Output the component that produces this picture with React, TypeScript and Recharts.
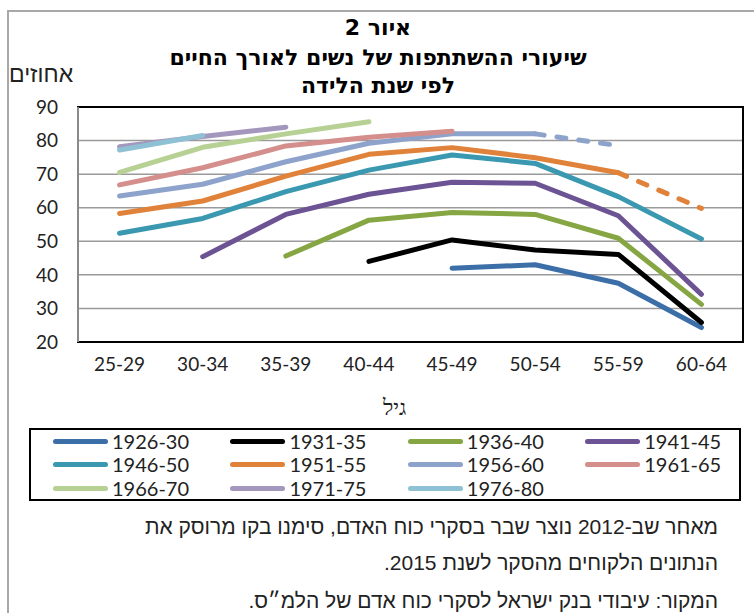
import React from 'react';
import { LineChart, Line, XAxis, YAxis, CartesianGrid, ReferenceArea } from 'recharts';

const ageGroups = ['25-29', '30-34', '35-39', '40-44', '45-49', '50-54', '55-59', '60-64'];

const cohorts = ['1926-30', '1931-35', '1936-40', '1941-45', '1946-50', '1951-55', '1956-60', '1961-65', '1966-70', '1971-75', '1976-80'];

const cohortColors = ['#3c6ea8', '#000000', '#86a643', '#6c5393', '#3a98b0', '#e0823a', '#8ea3cc', '#d48e8c', '#b7d094', '#a497bd', '#8dc1d3'];

// participation rate (%) by age group, one array per birth cohort
const c1926 = [null, null, null, null, 42, 43, 37.5, 24.3];
const c1931 = [null, null, null, 44, 50.4, 47.4, 46.1, 25.8];
const c1936 = [null, null, 45.6, 56.3, 58.6, 58, 50.9, 31.2];
const c1941 = [null, 45.4, 58, 64, 67.6, 67.3, 57.6, 34.2];
const c1946 = [52.4, 56.8, 64.8, 71.2, 75.7, 73.2, 63.3, 50.7];
const c1951 = [58.3, 62, 69.4, 75.9, 77.9, 74.9, 70.4, 59.8];
const c1956 = [63.5, 67, 73.7, 79.2, 82, 82, 78.5, null];
const c1961 = [66.8, 71.9, 78.4, 81, 82.8, null, null, null];
const c1966 = [70.5, 78, 82, 85.6, null, null, null, null];
const c1971 = [78.2, 81.2, 84, null, null, null, null, null];
const c1976 = [77.2, 81.5, null, null, null, null, null, null];

const cohortValues = [c1926, c1931, c1936, c1941, c1946, c1951, c1956, c1961, c1966, c1971, c1976];

// after the 2012 survey break the last point comes from the 2015 survey (dashed)
const dashedFrom: Record<string, number> = { '1956-60': 5, '1951-55': 6 };

const yTicks = [20, 30, 40, 50, 60, 70, 80, 90];

const chartData = ageGroups.map((age, i) => {
  const row: Record<string, number | string | null> = { x: i, age };
  cohorts.forEach((c, k) => {
    const v = cohortValues[k][i];
    const cut = dashedFrom[c];
    if (cut === undefined) {
      row[c] = v;
    } else {
      row[c] = i <= cut ? v : null;
      row[c + ' dashed'] = i >= cut ? v : null;
    }
  });
  return row;
});

const tickFont = { fontFamily: 'Lato, sans-serif', fontSize: 19, fill: '#222' };

const titleLine: React.CSSProperties = {
  position: 'absolute', left: 0, width: 756, textAlign: 'center', direction: 'rtl',
  fontFamily: '"DejaVu Sans", sans-serif', fontWeight: 'bold', fontSize: 22, lineHeight: '28px', color: '#000',
};

const App: React.FC = () => {
  return (
    <div style={{ position: 'absolute', left: 0, top: 0, width: 754, height: 613, overflow: 'hidden', background: '#fff' }}>
      <div style={{ position: 'absolute', left: 7, top: 10, width: 800, height: 700, borderLeft: '2px solid #a8a8a8', borderTop: '2px solid #a8a8a8' }} />

      <div style={{ ...titleLine, top: 14 }}>איור 2</div>
      <div style={{ ...titleLine, top: 44 }}>שיעורי ההשתתפות של נשים לאורך החיים</div>
      <div style={{ ...titleLine, top: 72 }}>לפי שנת הלידה</div>

      <div style={{ position: 'absolute', left: 9, top: 61, direction: 'rtl', fontFamily: '"Liberation Sans", sans-serif', fontSize: 23, color: '#222' }}>
        אחוזים
      </div>

      <div style={{ position: 'absolute', left: 0, top: 0 }}>
        <LineChart width={754} height={420} data={chartData} margin={{ top: 107, right: 11, left: 0, bottom: 48 }}>
          <CartesianGrid horizontal vertical={false} stroke="#9a9a9a" strokeWidth={1.5} />
          <ReferenceArea x1={-0.5} x2={7.5} y1={20} y2={90} fill="none" stroke="#000" strokeWidth={2} />
          <XAxis
            xAxisId="sep"
            type="number"
            dataKey="x"
            domain={[-0.5, 7.5]}
            ticks={[0.5, 1.5, 2.5, 3.5, 4.5, 5.5, 6.5]}
            tick={false}
            tickSize={-7}
            tickLine={{ stroke: '#000', strokeWidth: 1.5 }}
            axisLine={false}
            height={0}
          />
          <XAxis
            type="number"
            dataKey="x"
            domain={[-0.5, 7.5]}
            ticks={[0, 1, 2, 3, 4, 5, 6, 7]}
            tickFormatter={(i: number) => ageGroups[i]}
            tick={tickFont}
            tickLine={false}
            tickSize={0}
            tickMargin={16}
            axisLine={{ stroke: '#000', strokeWidth: 2 }}
            height={30}
            interval={0}
          />
          <YAxis
            type="number"
            domain={[20, 90]}
            ticks={yTicks}
            width={78}
            tick={tickFont}
            tickLine={false}
            tickSize={0}
            tickMargin={20}
            axisLine={{ stroke: '#8a8a8a', strokeWidth: 2 }}
            interval={0}
          />
          {cohorts.map((c, k) => (
            <Line
              key={c}
              dataKey={c}
              type="linear"
              stroke={cohortColors[k]}
              strokeWidth={5}
              strokeLinecap="round"
              strokeLinejoin="round"
              dot={false}
              isAnimationActive={false}
            />
          ))}
          {cohorts.filter(c => dashedFrom[c] !== undefined).map(c => (
            <Line
              key={c + ' dashed'}
              dataKey={c + ' dashed'}
              type="linear"
              stroke={cohortColors[cohorts.indexOf(c)]}
              strokeWidth={5}
              strokeDasharray="9 13"
              strokeLinecap="round"
              dot={false}
              legendType="none"
              isAnimationActive={false}
            />
          ))}
        </LineChart>
      </div>

      <div style={{ position: 'absolute', left: 383, top: 395, fontFamily: '"Liberation Serif", serif', fontSize: 22, color: '#222', direction: 'rtl' }}>
        גיל
      </div>

      <div style={{ position: 'absolute', left: 29, top: 428, width: 708, height: 69, border: '2px solid #000' }}>
        {cohorts.map((c, k) => (
          <div
            key={c}
            style={{ position: 'absolute', left: 22 + (k % 4) * 177.4, top: (Math.floor(k / 4)) * 23.3, height: 23, display: 'flex', alignItems: 'center' }}
          >
            <div style={{ width: 55, height: 5, borderRadius: 3, background: cohortColors[k] }} />
            <span style={{ marginLeft: 4, fontFamily: 'Lato, sans-serif', fontSize: 20, color: '#222', lineHeight: '23px' }}>{c}</span>
          </div>
        ))}
      </div>

      <div style={{ position: 'absolute', right: 36, top: 509, direction: 'rtl', textAlign: 'right', fontFamily: '"Liberation Sans", sans-serif', fontSize: 21, color: '#222', lineHeight: '36px' }}>
        <div>מאחר שב-2012 נוצר שבר בסקרי כוח האדם, סימנו בקו מרוסק את</div>
        <div>הנתונים הלקוחים מהסקר לשנת 2015.</div>
        <div style={{ marginTop: 2 }}>המקור: עיבודי בנק ישראל לסקרי כוח אדם של הלמ״ס.</div>
      </div>
    </div>
  );
};

export default App;
